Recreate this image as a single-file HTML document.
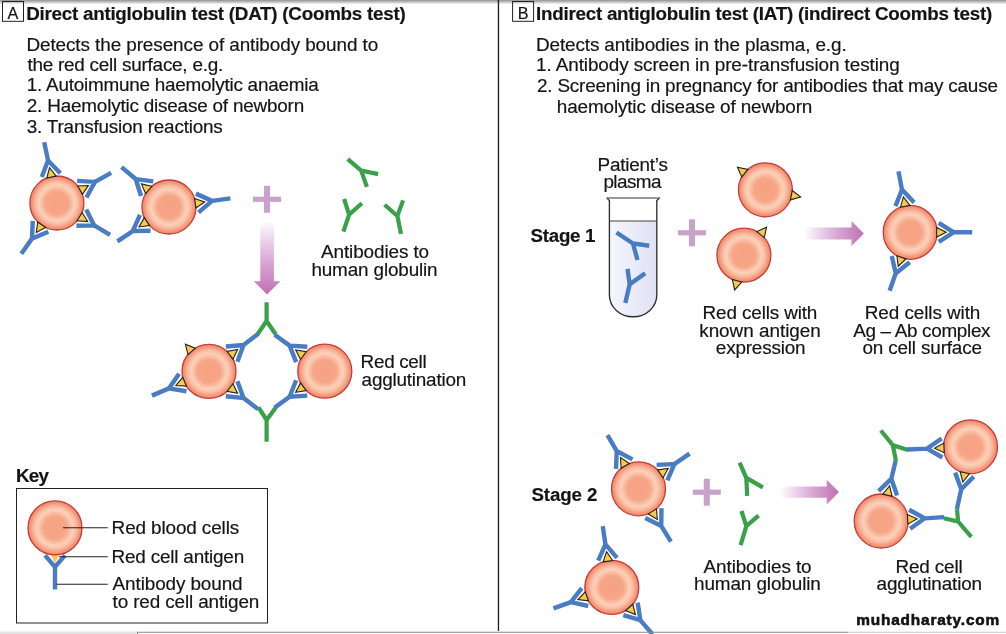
<!DOCTYPE html><html><head><meta charset="utf-8"><style>
html,body{margin:0;padding:0;background:#fff;overflow:hidden;width:1006px;height:634px;}
svg{display:block;filter:blur(0.3px);}
text{font-family:"Liberation Sans",sans-serif;fill:#141414;stroke:#141414;stroke-width:0.18px;}
.b{fill:none;stroke:#4a7cc3;stroke-width:4.4;stroke-linecap:butt;stroke-linejoin:miter;}
.g{fill:none;stroke:#38a149;stroke-width:4.2;stroke-linecap:butt;stroke-linejoin:miter;}
</style></head><body>
<svg width="1006" height="634" viewBox="0 0 1006 634"><defs>
<radialGradient id="rbc" cx="0.5" cy="0.5" r="0.5">
<stop offset="0" stop-color="#f6a284"/><stop offset="0.42" stop-color="#f6a586"/>
<stop offset="0.66" stop-color="#fcd1b9"/><stop offset="0.79" stop-color="#f9bba0"/>
<stop offset="0.9" stop-color="#f49a7e"/><stop offset="1" stop-color="#f08468"/></radialGradient>
<linearGradient id="topg" x1="0" y1="0" x2="0" y2="1"><stop offset="0" stop-color="#929292"/><stop offset="0.5" stop-color="#c4c4c4"/><stop offset="1" stop-color="#fff"/></linearGradient>
<linearGradient id="arrv" x1="0" y1="221" x2="0" y2="294.6" gradientUnits="userSpaceOnUse"><stop offset="0" stop-color="#fff"/><stop offset="0.2" stop-color="#f0dcef"/><stop offset="0.55" stop-color="#d8a8d5"/><stop offset="1" stop-color="#c070b4"/></linearGradient>
<linearGradient id="arrh" x1="0" y1="0" x2="1" y2="0"><stop offset="0" stop-color="#fff"/><stop offset="0.2" stop-color="#f0dcef"/><stop offset="0.55" stop-color="#d8a8d5"/><stop offset="1" stop-color="#c070b4"/></linearGradient>
<linearGradient id="botg" x1="0" y1="0" x2="0" y2="1"><stop offset="0" stop-color="#fff"/><stop offset="1" stop-color="#d9d9d9"/></linearGradient>
<linearGradient id="liq" x1="0" y1="0" x2="1" y2="0"><stop offset="0" stop-color="#f6f6fc"/><stop offset="1" stop-color="#e0e2f4"/></linearGradient>
<g id="tri"><path d="M-0.5,-4.8 L-0.5,4.8 L9,0 Z" fill="#f6c94f" stroke="#222" stroke-width="1.1" stroke-linejoin="miter"/></g>
</defs>
<rect width="1006" height="634" fill="#fff"/>
<rect x="0" y="0" width="1006" height="4.3" fill="url(#topg)"/>
<rect x="497.8" y="0" width="1.3" height="631" fill="#1d1d1d"/>
<rect x="2.5" y="1.5" width="21" height="19.8" fill="none" stroke="#222" stroke-width="1"/>
<text x="12.9" y="18.9" font-size="16.2" text-anchor="middle">A</text>
<rect x="512.6" y="1.5" width="21" height="19.8" fill="none" stroke="#222" stroke-width="1"/>
<text x="523.1" y="18.9" font-size="16.2" text-anchor="middle">B</text>
<circle cx="56.9" cy="203" r="27" fill="url(#rbc)" stroke="#c23e3a" stroke-width="1.3"/>
<g transform="translate(56.9,203) rotate(-101.8) translate(27,0)"><use href="#tri"/><path d="M1.5,-9.5 L16.5,0 L1.5,9.5 M16.5,0 L35,0" class="b"/></g>
<g transform="translate(56.9,203) rotate(-29) translate(27,0)"><use href="#tri"/><path d="M1.5,-9.5 L16.5,0 L1.5,9.5 M16.5,0 L35,0" class="b"/></g>
<g transform="translate(56.9,203) rotate(31) translate(27,0)"><use href="#tri"/><path d="M1.5,-9.5 L16.5,0 L1.5,9.5 M16.5,0 L35,0" class="b"/></g>
<g transform="translate(56.9,203) rotate(125) translate(27,0)"><use href="#tri"/><path d="M1.5,-9.5 L16.5,0 L1.5,9.5 M16.5,0 L35,0" class="b"/></g>
<circle cx="169" cy="207" r="27" fill="url(#rbc)" stroke="#c23e3a" stroke-width="1.3"/>
<g transform="translate(169,207) rotate(-140) translate(27,0)"><use href="#tri"/><path d="M1.5,-9.5 L16.5,0 L1.5,9.5 M16.5,0 L35,0" class="b"/></g>
<g transform="translate(169,207) rotate(146.4) translate(27,0)"><use href="#tri"/><path d="M1.5,-9.5 L16.5,0 L1.5,9.5 M16.5,0 L35,0" class="b"/></g>
<g transform="translate(169,207) rotate(-8) translate(27,0)"><use href="#tri"/><path d="M1.5,-9.5 L16.5,0 L1.5,9.5 M16.5,0 L35,0" class="b"/></g>
<rect x="253" y="196.70000000000002" width="28" height="5.2" fill="#c9a2cc"/><rect x="264" y="185.8" width="6" height="27" fill="#c9a2cc"/>
<path d="M260.3,221 L273.9,221 L273.9,281.3 L280.3,281.3 L267.1,294.6 L253.8,281.3 L260.3,281.3 Z" fill="url(#arrv)"/>
<path d="M347.7,159.2 L361.2,170.6 L378.2,174.1 M361.2,170.6 L366.9,186.9" class="g"/>
<path d="M344.1,199 L349.1,214.6 L361.9,203.2 M349.1,214.6 L343.4,231.6" class="g"/>
<path d="M384.6,204.7 L397.4,216 L403.1,200.4 M397.4,216 L401,233.8" class="g"/>
<path d="M257.5,334.3 L266.6,321 L275.7,334.3 M266.6,321 L266.6,302.3" class="g"/>
<path d="M258.6,407.5 L266.6,420 L275.8,407.5 M266.6,420 L266.6,441.8" class="g"/>
<circle cx="209" cy="371.4" r="27" fill="url(#rbc)" stroke="#c23e3a" stroke-width="1.3"/>
<circle cx="324.8" cy="371.2" r="27" fill="url(#rbc)" stroke="#c23e3a" stroke-width="1.3"/>
<g transform="translate(209,371.4) rotate(-131) translate(27,0)"><use href="#tri"/></g>
<g transform="translate(209,371.4) rotate(-37.4) translate(27,0)"><use href="#tri"/><path d="M1.5,-9.5 L16.5,0 L1.5,9.5 M16.5,0 L35,0" class="b"/></g>
<g transform="translate(209,371.4) rotate(37.5) translate(27,0)"><use href="#tri"/><path d="M1.5,-9.5 L16.5,0 L1.5,9.5 M16.5,0 L35,0" class="b"/></g>
<g transform="translate(209,371.4) rotate(157) translate(27,0)"><use href="#tri"/><path d="M1.5,-9.5 L16.5,0 L1.5,9.5 M16.5,0 L35,0" class="b"/></g>
<g transform="translate(324.8,371.2) rotate(-144) translate(27,0)"><use href="#tri"/><path d="M1.5,-9.5 L16.5,0 L1.5,9.5 M16.5,0 L35,0" class="b"/></g>
<g transform="translate(324.8,371.2) rotate(144) translate(27,0)"><use href="#tri"/><path d="M1.5,-9.5 L16.5,0 L1.5,9.5 M16.5,0 L35,0" class="b"/></g>
<rect x="16.5" y="488.5" width="251" height="134.5" fill="none" stroke="#222" stroke-width="1"/>
<g transform="translate(55,527.9) rotate(90) translate(27,0)"><path d="M-4,-6 L-4,6 L8,0 Z" fill="#f6c94f"/></g>
<circle cx="55" cy="527.9" r="27" fill="url(#rbc)" stroke="#c23e3a" stroke-width="1.3"/>
<g transform="translate(55,527.9) rotate(90) translate(27,0)"><path d="M0.5,-10 L12,0 L0.5,10 M12,0 L34.5,0" class="b"/></g>
<path d="M63,527.8 H107.7 M59,556.8 H107.7 M56.5,584.2 H107.7" stroke="#222" stroke-width="1.1"/>
<path d="M609.4,221 L656.8,221 L656.8,295 A23.7,21.8 0 0 1 609.4,295 Z" fill="url(#liq)"/>
<path d="M606.6,197.8 L609.4,200.5 L609.4,295 A23.7,21.8 0 0 0 656.8,295 L656.8,200.5 L659.8,197.8" fill="none" stroke="#2e2e2e" stroke-width="1.35"/>
<path d="M607,198 H659.5" stroke="#777" stroke-width="1.4"/>
<path d="M609.4,221 H656.9" stroke="#444" stroke-width="1.1"/>
<path d="M616.5,232.5 L633,243.5 L649.2,245.7 M633,243.5 L637.5,260" class="b"/>
<path d="M627.5,268.9 L629.7,284.3 L645.2,273.3 M629.7,284.3 L625.3,303.1" class="b"/>
<rect x="678" y="230.20000000000002" width="28" height="5.2" fill="#c9a2cc"/><rect x="689" y="219.3" width="6" height="27" fill="#c9a2cc"/>
<circle cx="765.4" cy="189.8" r="27" fill="url(#rbc)" stroke="#c23e3a" stroke-width="1.3"/>
<g transform="translate(765.4,189.8) rotate(-141) translate(27,0)"><use href="#tri"/></g>
<g transform="translate(765.4,189.8) rotate(11.7) translate(27,0)"><use href="#tri"/></g>
<circle cx="743.9" cy="255.2" r="27" fill="url(#rbc)" stroke="#c23e3a" stroke-width="1.3"/>
<g transform="translate(743.9,255.2) rotate(-51) translate(27,0)"><use href="#tri"/></g>
<g transform="translate(743.9,255.2) rotate(105) translate(27,0)"><use href="#tri"/></g>
<path d="M804,227.6 L851.5,227.6 L851.5,221 L863.8,233.5 L851.5,246 L851.5,239.4 L804,239.4 Z" fill="url(#arrh)"/>
<circle cx="910.2" cy="232.3" r="27" fill="url(#rbc)" stroke="#c23e3a" stroke-width="1.3"/>
<g transform="translate(910.2,232.3) rotate(-100.9) translate(27,0)"><use href="#tri"/><path d="M1.5,-9.5 L16.5,0 L1.5,9.5 M16.5,0 L35,0" class="b"/></g>
<g transform="translate(910.2,232.3) rotate(0) translate(27,0)"><use href="#tri"/><path d="M1.5,-9.5 L16.5,0 L1.5,9.5 M16.5,0 L35,0" class="b"/></g>
<g transform="translate(910.2,232.3) rotate(109.4) translate(27,0)"><use href="#tri"/><path d="M1.5,-9.5 L16.5,0 L1.5,9.5 M16.5,0 L35,0" class="b"/></g>
<circle cx="638.5" cy="488.8" r="27" fill="url(#rbc)" stroke="#c23e3a" stroke-width="1.3"/>
<g transform="translate(638.5,488.8) rotate(-120) translate(27,0)"><use href="#tri"/><path d="M1.5,-9.5 L16.5,0 L1.5,9.5 M16.5,0 L35,0" class="b"/></g>
<g transform="translate(638.5,488.8) rotate(-34.5) translate(27,0)"><use href="#tri"/><path d="M1.5,-9.5 L16.5,0 L1.5,9.5 M16.5,0 L35,0" class="b"/></g>
<g transform="translate(638.5,488.8) rotate(58.5) translate(27,0)"><use href="#tri"/><path d="M1.5,-9.5 L16.5,0 L1.5,9.5 M16.5,0 L35,0" class="b"/></g>
<circle cx="611.8" cy="587.4" r="27" fill="url(#rbc)" stroke="#c23e3a" stroke-width="1.3"/>
<g transform="translate(611.8,587.4) rotate(-98.4) translate(27,0)"><use href="#tri"/><path d="M1.5,-9.5 L16.5,0 L1.5,9.5 M16.5,0 L35,0" class="b"/></g>
<g transform="translate(611.8,587.4) rotate(160.2) translate(27,0)"><use href="#tri"/><path d="M1.5,-9.5 L16.5,0 L1.5,9.5 M16.5,0 L35,0" class="b"/></g>
<g transform="translate(611.8,587.4) rotate(49) translate(27,0)"><use href="#tri"/><path d="M1.5,-9.5 L16.5,0 L1.5,9.5 M16.5,0 L35,0" class="b"/></g>
<rect x="692.8" y="489.59999999999997" width="28" height="5.2" fill="#c9a2cc"/><rect x="703.8" y="478.7" width="6" height="27" fill="#c9a2cc"/>
<path d="M739.6,462.7 L746.3,477.9 L762.9,487.3 M746.3,477.9 L747.2,495.8" class="g"/>
<path d="M741.5,511 L746.3,526.1 L758.6,515.7 M746.3,526.1 L740.6,545.1" class="g"/>
<path d="M780,486.4 L826.7,486.4 L826.7,479.7 L839,492 L826.7,504.4 L826.7,497.7 L780,497.7 Z" fill="url(#arrh)"/>
<path d="M908,450 L892.8,445.2 L896,461 M892.8,445.2 L880.8,430.5" class="g"/>
<path d="M943.8,518.2 L958.1,521.5 L957,509.3 M958.1,521.5 L971.3,536.9" class="g"/>
<circle cx="970.5" cy="446.8" r="27" fill="url(#rbc)" stroke="#c23e3a" stroke-width="1.3"/>
<circle cx="881.2" cy="521" r="27" fill="url(#rbc)" stroke="#c23e3a" stroke-width="1.3"/>
<g transform="translate(970.5,446.8) rotate(177.6) translate(27,0)"><use href="#tri"/><path d="M1.5,-9.5 L16.5,0 L1.5,9.5 M16.5,0 L36.5,0" class="b"/></g>
<g transform="translate(970.5,446.8) rotate(102.3) translate(27,0)"><use href="#tri"/><path d="M1.5,-9.5 L16.5,0 L1.5,9.5 M16.5,0 L37,0" class="b"/></g>
<g transform="translate(881.2,521) rotate(-76.5) translate(27,0)"><use href="#tri"/><path d="M1.5,-9.5 L16.5,0 L1.5,9.5 M16.5,0 L35,0" class="b"/></g>
<g transform="translate(881.2,521) rotate(-3.5) translate(27,0)"><use href="#tri"/><path d="M1.5,-9.5 L16.5,0 L1.5,9.5 M16.5,0 L36,0" class="b"/></g>
<rect x="0" y="630" width="137" height="4" fill="url(#botg)"/>
<path d="M137,632.3 H848" stroke="#8a8a8a" stroke-width="1.1"/>
<path d="M848,632.3 H1006" stroke="#c8c8c8" stroke-width="1.1"/>
<path d="M137.5,632 V634" stroke="#8a8a8a" stroke-width="1"/>
<text x="856.2" y="625.3" font-size="15.4" font-weight="bold" textLength="143" lengthAdjust="spacing" fill="#0a0a0a" style="stroke:#0a0a0a;stroke-width:0.55px">muhadharaty.com</text>
<text x="26.20" y="19.8" font-size="18.8" font-weight="bold" textLength="379.49" lengthAdjust="spacing">Direct antiglobulin test (DAT) (Coombs test)</text>
<text x="26.40" y="50.8" font-size="18.9" textLength="351.77" lengthAdjust="spacing">Detects the presence of antibody bound to</text>
<text x="27.40" y="70.6" font-size="18.9" textLength="195.81" lengthAdjust="spacing">the red cell surface, e.g.</text>
<text x="26.80" y="91.3" font-size="18.9" textLength="291.87" lengthAdjust="spacing">1. Autoimmune haemolytic anaemia</text>
<text x="26.80" y="112" font-size="18.9" textLength="277.42" lengthAdjust="spacing">2. Haemolytic disease of newborn</text>
<text x="26.80" y="132.6" font-size="18.9" textLength="195.96" lengthAdjust="spacing">3. Transfusion reactions</text>
<text x="321.00" y="257.7" font-size="18.9" textLength="108.13" lengthAdjust="spacing">Antibodies to</text>
<text x="311.40" y="276.2" font-size="18.9" textLength="126.24" lengthAdjust="spacing">human globulin</text>
<text x="360.60" y="368" font-size="18.9" textLength="66.05" lengthAdjust="spacing">Red cell</text>
<text x="361.60" y="385.7" font-size="18.9" textLength="104.64" lengthAdjust="spacing">agglutination</text>
<text x="16.00" y="482.3" font-size="18.8" font-weight="bold" textLength="32.97" lengthAdjust="spacing">Key</text>
<text x="111.60" y="533.8" font-size="18.9" textLength="127.57" lengthAdjust="spacing">Red blood cells</text>
<text x="111.60" y="563.2" font-size="18.9" textLength="132.58" lengthAdjust="spacing">Red cell antigen</text>
<text x="112.60" y="589.8" font-size="18.9" textLength="130.00" lengthAdjust="spacing">Antibody bound</text>
<text x="112.60" y="607.9" font-size="18.9" textLength="146.73" lengthAdjust="spacing">to red cell antigen</text>
<text x="536.00" y="19.8" font-size="18.8" font-weight="bold" textLength="456.29" lengthAdjust="spacing">Indirect antiglobulin test (IAT) (indirect Coombs test)</text>
<text x="536.00" y="50.6" font-size="18.9" textLength="310.63" lengthAdjust="spacing">Detects antibodies in the plasma, e.g.</text>
<text x="536.00" y="71.1" font-size="18.9" textLength="363.73" lengthAdjust="spacing">1. Antibody screen in pre-transfusion testing</text>
<text x="537.00" y="91.8" font-size="18.9" textLength="460.92" lengthAdjust="spacing">2. Screening in pregnancy for antibodies that may cause</text>
<text x="556.80" y="112.5" font-size="18.9" textLength="255.57" lengthAdjust="spacing">haemolytic disease of newborn</text>
<text x="597.60" y="171.3" font-size="18.9" textLength="70.23" lengthAdjust="spacing">Patient’s</text>
<text x="603.40" y="188.3" font-size="18.9" textLength="58.11" lengthAdjust="spacing">plasma</text>
<text x="530.60" y="242.3" font-size="18.7" font-weight="bold" textLength="64.88" lengthAdjust="spacing">Stage 1</text>
<text x="702.60" y="319" font-size="18.9" textLength="114.75" lengthAdjust="spacing">Red cells with</text>
<text x="699.20" y="336.6" font-size="18.9" textLength="121.64" lengthAdjust="spacing">known antigen</text>
<text x="715.80" y="353.6" font-size="18.9" textLength="89.76" lengthAdjust="spacing">expression</text>
<text x="864.80" y="319" font-size="18.9" textLength="115.55" lengthAdjust="spacing">Red cells with</text>
<text x="853.20" y="336.6" font-size="18.9" textLength="137.37" lengthAdjust="spacing">Ag – Ab complex</text>
<text x="862.40" y="353.6" font-size="18.9" textLength="119.61" lengthAdjust="spacing">on cell surface</text>
<text x="531.40" y="500.6" font-size="18.7" font-weight="bold" textLength="66.08" lengthAdjust="spacing">Stage 2</text>
<text x="703.60" y="573.1" font-size="18.9" textLength="107.93" lengthAdjust="spacing">Antibodies to</text>
<text x="694.00" y="590" font-size="18.9" textLength="126.84" lengthAdjust="spacing">human globulin</text>
<text x="895.40" y="573" font-size="18.9" textLength="67.35" lengthAdjust="spacing">Red cell</text>
<text x="876.60" y="590" font-size="18.9" textLength="105.54" lengthAdjust="spacing">agglutination</text>
</svg></body></html>
